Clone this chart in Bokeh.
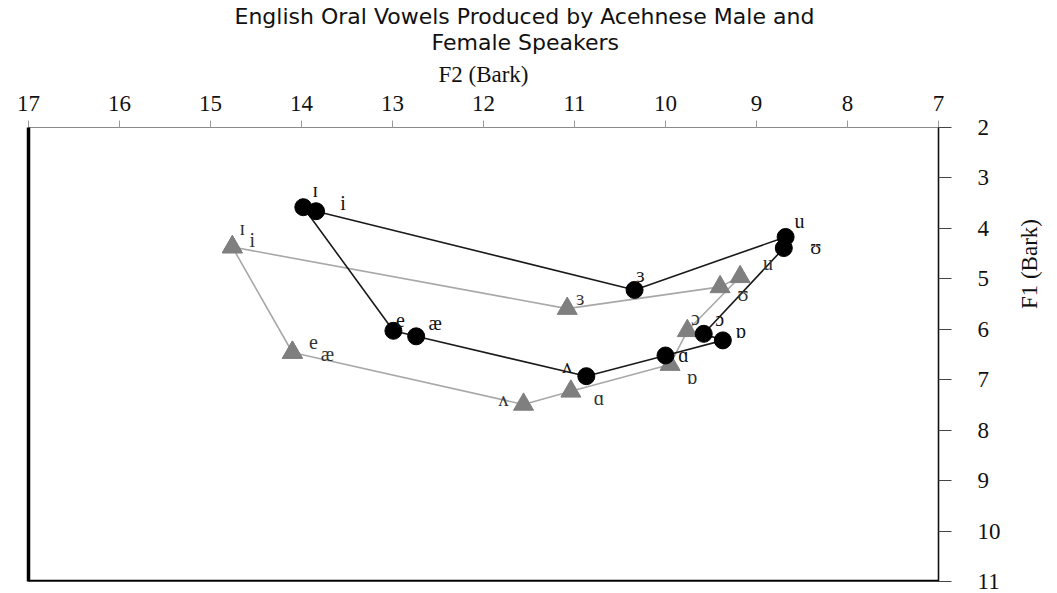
import math
from bokeh.plotting import figure
from bokeh.models import Range1d, LinearAxis, FixedTicker, ColumnDataSource, Title, Span
from bokeh.core.properties import value
from bokeh.embed import file_html
from bokeh.resources import INLINE

# ---- data (Bark) ----
male_vowels = ["ɪ", "e", "æ", "ʌ", "ɑ", "ɒ", "ɔ", "ʊ", "u", "ɜ", "i"]
male_f2 = [13.98, 12.99, 12.74, 10.87, 10.00, 9.37, 9.58, 8.70, 8.68, 10.34, 13.84]
male_f1 = [3.58, 6.03, 6.14, 6.93, 6.52, 6.22, 6.09, 4.39, 4.17, 5.22, 3.66]

female_vowels = ["ɪ", "e", "æ", "ʌ", "ɑ", "ɒ", "ɔ", "u", "ʊ", "ɜ", "i"]
female_f2 = [14.76, 14.10, 14.10, 11.56, 11.04, 9.95, 9.76, 9.18, 9.40, 11.08, 14.76]
female_f1 = [4.37, 6.46, 6.46, 7.49, 7.23, 6.70, 6.03, 4.96, 5.16, 5.59, 4.37]

f2_ticks = [7, 8, 9, 10, 11, 12, 13, 14, 15, 16, 17]
f1_ticks = [2, 3, 4, 5, 6, 7, 8, 9, 10, 11]

title_line1 = "English Oral Vowels Produced by Acehnese Male and"
title_line2 = "Female Speakers"
x_label = "F2 (Bark)"
y_label = "F1 (Bark)"

# ---- label placement (screen px offsets, layout only) ----
male_dx = [12, 7, 19, -19, 18, 18, 16, 32, 14, 6, 27]
male_dy = [-17, -11, -13, -10, -1, -9, -15, -1, -16, -15, -8]
female_dx = [10, 21, 35, -20, 28, 22, 8, 28, 23, 13, 20]
female_dy = [-19, -10, 2, -5, 7, 12, -13, -14, 7, -11, -7]
y_label_at = 5.6  # vertical centre of the F1 axis title (layout)

male_src = ColumnDataSource(dict(x=male_f2, y=male_f1, t=male_vowels, dx=male_dx, dy=male_dy))
female_src = ColumnDataSource(dict(x=female_f2, y=female_f1, t=female_vowels, dx=female_dx, dy=female_dy))

p = figure(width=1057, height=593, title=None,
           x_range=Range1d(17, 7), y_range=Range1d(11, 2),
           output_backend="svg", toolbar_location=None,
           x_axis_location="above", y_axis_location="right",
           min_border_left=28, min_border_right=119,
           min_border_top=127, min_border_bottom=12)

p.xgrid.visible = False
p.ygrid.visible = False
p.outline_line_color = "#8a8a8a"
p.outline_line_width = 1
p.background_fill_color = "white"
p.border_fill_color = "white"

sans = "DejaVu Sans"
serif = "Liberation Serif"

# two centred title lines (left-aligned + offset so they centre on the page like the reference)
for txt, off, stand in ((title_line2, 403, 8), (title_line1, 206, -10)):
    t = Title(text=txt, align="left", offset=off,
              text_font=sans, text_font_size="22px", text_font_style="normal",
              text_color="#111111", standoff=stand)
    p.add_layout(t, "above")

ax = p.xaxis[0]
ax.ticker = FixedTicker(ticks=f2_ticks)
ax.axis_label = x_label
ax.axis_label_text_font = serif
ax.axis_label_text_font_size = "23px"
ax.axis_label_text_font_style = "normal"
ax.axis_label_text_color = "#111111"
ax.axis_label_standoff = 6
ax.major_label_text_font = serif
ax.major_label_text_font_size = "23px"
ax.major_label_text_color = "#111111"
ax.major_label_standoff = 10
ax.axis_line_color = None
ax.major_tick_line_color = "#9a9a9a"
ax.major_tick_in = 0
ax.major_tick_out = 7
ax.minor_tick_line_color = None

ay = p.yaxis[0]
ay.ticker = FixedTicker(ticks=f1_ticks)
ay.axis_label = None
ay.major_label_text_font = serif
ay.major_label_text_font_size = "23px"
ay.major_label_text_color = "#111111"
ay.major_label_standoff = 26
ay.axis_line_color = "#111111"
ay.axis_line_width = 1.6
ay.major_tick_line_color = "#444444"
ay.major_tick_line_width = 1.2
ay.major_tick_in = 0
ay.major_tick_out = 13
ay.minor_tick_line_color = None

# F1 axis title reading bottom-to-top, as a rotated label of an extra right axis
ytitle = LinearAxis(ticker=FixedTicker(ticks=[y_label_at]),
                    major_label_overrides={y_label_at: y_label},
                    major_label_orientation=math.pi / 2,
                    major_label_text_font=serif, major_label_text_font_size="23px",
                    major_label_text_color="#111111", major_label_standoff=26,
                    axis_line_color=None, major_tick_line_color=None,
                    minor_tick_line_color=None, major_tick_in=0, major_tick_out=0)
p.add_layout(ytitle, "right")

left = LinearAxis(ticker=FixedTicker(ticks=[]),
                  axis_line_width=3.5, axis_line_color="black",
                  major_tick_line_color=None, minor_tick_line_color=None,
                  major_label_text_font_size="0px", major_label_standoff=0,
                  major_tick_out=0, major_tick_in=0)
p.add_layout(left, "left")
p.add_layout(Span(location=11, dimension="width", line_color="black", line_width=3.5))

# closed outlines
p.line(female_f2 + female_f2[:1], female_f1 + female_f1[:1],
       line_color="#a8a8a8", line_width=1.6)
p.line(male_f2 + male_f2[:1], male_f1 + male_f1[:1],
       line_color="#1a1a1a", line_width=1.6)

p.scatter("x", "y", source=female_src, marker="triangle", size=20,
          fill_color="#7f7f7f", line_color="#7f7f7f")
p.scatter("x", "y", source=male_src, marker="circle", size=17,
          fill_color="black", line_color="black")

p.text("x", "y", text="t", source=male_src, x_offset="dx", y_offset="dy",
       text_font=value(serif), text_font_size="20px", text_color="#111111",
       text_align="center", text_baseline="middle")
p.text("x", "y", text="t", source=female_src, x_offset="dx", y_offset="dy",
       text_font=value(serif), text_font_size="20px", text_color="#333333",
       text_align="center", text_baseline="middle")

open("out.html", "w").write(file_html(p, INLINE))
